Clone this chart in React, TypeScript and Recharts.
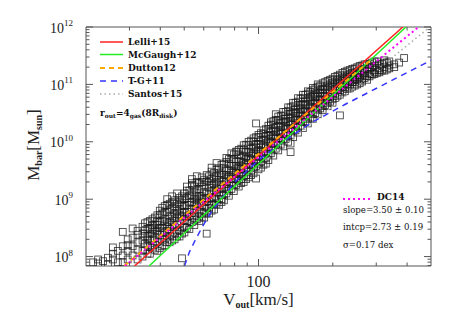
import React from 'react';
import { ScatterChart, Scatter, XAxis, YAxis } from 'recharts';

// axes are in log10 units: x = log V_out [km/s], y = log M_bar [M_sun]
const X_MIN = Math.log10(20);
const X_MAX = Math.log10(500);
const Y_MIN = 7.836;
const Y_MAX = 12;

const xTickValues = [30, 40, 50, 60, 70, 80, 90, 100, 200, 300, 400];
const xLabelValues = [100];
const yDecades = [7, 8, 9, 10, 11];
const yMinorSteps = [1, 2, 3, 4, 5, 6, 7, 8, 9];

// galaxies, grouped by log V column: [logV, logM values]
const galaxyColumns: [number, number[]][] = [
  [1.33, [7.9]],
  [1.35, [7.88, 7.95]],
  [1.37, [7.92]],
  [1.39, [7.98, 7.87]],
  [1.41, [8.16, 7.95, 8.05]],
  [1.43, [7.9, 8.1]],
  [1.45, [8.43, 8.02, 8.18, 7.9]],
  [1.47, [8.1, 8.3, 7.95, 8.2]],
  [1.49, [8.49, 8.18, 8.02, 8.33]],
  [1.51, [8.12, 8.38, 8.25, 7.95, 8.45]],
  [1.53, [8.52, 8.28, 8.1, 8.4, 8.0]],
  [1.54, [8.45, 8.22, 8.58, 8.12, 8.36]],
  [1.55, [8.6, 8.35, 8.2, 8.48, 8.05, 8.3]],
  [1.56, [8.5, 8.28, 8.62, 8.18, 8.4, 8.05]],
  [1.57, [8.65, 8.3, 8.48, 8.55, 8.15, 8.4]],
  [1.58, [8.55, 8.32, 8.68, 8.2, 8.46, 8.12]],
  [1.59, [8.72, 8.4, 8.55, 8.25, 8.62, 8.1, 8.45]],
  [1.6, [8.6, 8.38, 8.72, 8.25, 8.5, 8.15, 8.8]],
  [1.61, [8.5, 8.75, 8.3, 8.85, 8.62, 8.18, 8.42]],
  [1.62, [8.65, 8.42, 8.78, 8.3, 8.56, 8.2, 8.88]],
  [1.63, [9.0, 8.6, 8.45, 8.78, 8.52, 8.25, 8.9, 8.35]],
  [1.64, [8.7, 8.48, 8.82, 8.35, 8.6, 8.25, 8.92]],
  [1.65, [8.62, 8.85, 8.4, 9.05, 8.7, 8.28, 8.55, 8.95]],
  [1.66, [8.75, 8.52, 8.88, 8.4, 8.66, 8.3, 8.98]],
  [1.67, [8.8, 8.55, 9.1, 8.68, 8.35, 8.92, 8.45, 8.74]],
  [1.68, [8.82, 8.58, 8.95, 8.45, 8.72, 8.35, 9.02]],
  [1.69, [9.05, 8.7, 8.88, 8.5, 8.98, 8.4, 8.78, 7.97]],
  [1.7, [8.88, 8.64, 9.0, 8.52, 8.78, 8.42, 9.1]],
  [1.71, [8.9, 9.15, 8.62, 9.02, 8.78, 9.22, 8.5, 8.7]],
  [1.72, [8.94, 8.7, 9.06, 8.58, 8.84, 8.48, 9.15]],
  [1.73, [8.95, 9.08, 8.7, 9.25, 8.82, 9.35, 8.6, 9.28]],
  [1.74, [9.0, 8.76, 9.12, 8.64, 8.9, 8.55, 9.22]],
  [1.75, [8.98, 9.15, 8.8, 9.3, 8.92, 8.65, 9.05, 9.4]],
  [1.76, [9.06, 8.82, 9.18, 8.7, 8.96, 8.62, 9.28]],
  [1.77, [9.05, 8.9, 9.22, 9.38, 8.75, 9.0, 9.3, 8.68]],
  [1.78, [9.12, 8.88, 9.25, 8.78, 9.02, 8.68, 9.34]],
  [1.79, [9.1, 8.95, 9.3, 8.85, 9.42, 9.02, 8.75, 8.4]],
  [1.8, [9.2, 8.95, 9.32, 8.85, 9.1, 8.75, 9.4]],
  [1.81, [9.15, 9.35, 9.0, 9.25, 9.48, 8.9, 9.55, 8.8]],
  [1.82, [9.26, 9.02, 9.38, 8.92, 9.16, 8.82, 9.46]],
  [1.83, [9.2, 9.4, 9.05, 9.3, 9.52, 8.92, 9.12, 9.63]],
  [1.84, [9.34, 9.1, 9.45, 9.0, 9.24, 8.9, 9.54]],
  [1.85, [9.25, 9.45, 9.08, 9.38, 9.6, 9.0, 9.18, 8.95]],
  [1.86, [9.42, 9.18, 9.54, 9.08, 9.32, 8.98, 9.62]],
  [1.87, [9.35, 9.2, 9.5, 9.3, 9.65, 9.1, 9.72, 9.42]],
  [1.88, [9.5, 9.26, 9.62, 9.15, 9.4, 9.06, 9.7]],
  [1.89, [9.42, 9.28, 9.58, 9.35, 9.18, 9.7, 9.5, 9.8]],
  [1.9, [9.58, 9.35, 9.7, 9.24, 9.48, 9.14, 9.78]],
  [1.91, [9.5, 9.35, 9.65, 9.45, 9.82, 9.25, 9.58, 9.83]],
  [1.92, [9.66, 9.44, 9.78, 9.32, 9.56, 9.22, 9.86]],
  [1.93, [9.58, 9.45, 9.72, 9.52, 9.35, 9.88, 9.65, 9.28]],
  [1.94, [9.75, 9.52, 9.86, 9.4, 9.64, 9.3, 9.94]],
  [1.95, [9.68, 9.55, 9.82, 9.62, 9.42, 9.95, 9.74, 9.35]],
  [1.96, [9.82, 9.6, 9.94, 9.48, 9.72, 9.38, 10.0]],
  [1.97, [9.75, 9.6, 9.88, 9.68, 10.02, 9.5, 9.8, 9.42]],
  [1.98, [9.9, 9.66, 10.0, 9.55, 9.8, 9.45, 10.06]],
  [1.99, [9.82, 9.68, 9.95, 9.75, 10.08, 9.58, 9.9, 9.36, 10.32]],
  [2.0, [9.96, 9.74, 10.08, 9.62, 9.86, 9.52, 10.12]],
  [2.01, [9.9, 9.75, 10.02, 9.82, 10.15, 9.65, 9.95, 9.55]],
  [2.02, [10.04, 9.8, 10.14, 9.7, 9.94, 9.6, 10.2]],
  [2.03, [9.96, 9.82, 10.1, 9.9, 10.22, 9.72, 10.04, 9.62]],
  [2.04, [10.12, 9.88, 10.22, 9.78, 10.02, 9.68, 10.28]],
  [2.05, [10.05, 9.9, 10.18, 9.98, 10.3, 9.8, 10.12, 10.34]],
  [2.06, [10.2, 9.96, 10.3, 9.86, 10.1, 9.76, 10.36]],
  [2.07, [10.12, 9.98, 10.25, 10.06, 10.38, 9.88, 10.18, 10.48]],
  [2.08, [10.28, 10.05, 10.38, 9.94, 10.18, 9.85, 10.44]],
  [2.09, [10.2, 10.06, 10.32, 10.14, 10.45, 9.95, 10.28]],
  [2.1, [10.36, 10.14, 10.46, 10.02, 10.26, 9.92, 10.52]],
  [2.11, [10.28, 10.15, 10.4, 10.22, 10.52, 10.05, 10.35]],
  [2.12, [10.44, 10.22, 10.54, 10.1, 10.34, 10.0, 10.6]],
  [2.13, [10.36, 10.22, 10.48, 10.3, 10.6, 10.12, 10.42, 9.97, 9.82]],
  [2.14, [10.52, 10.3, 10.62, 10.18, 10.42, 10.08, 10.68]],
  [2.15, [10.45, 10.3, 10.56, 10.38, 10.68, 10.2, 10.5]],
  [2.16, [10.6, 10.36, 10.7, 10.26, 10.5, 10.16, 10.76]],
  [2.17, [10.52, 10.38, 10.64, 10.45, 10.75, 10.28, 10.58]],
  [2.18, [10.66, 10.44, 10.76, 10.34, 10.56, 10.24, 10.82]],
  [2.19, [10.58, 10.45, 10.7, 10.52, 10.82, 10.35, 10.65]],
  [2.2, [10.74, 10.5, 10.84, 10.4, 10.64, 10.32, 10.88]],
  [2.21, [10.66, 10.52, 10.78, 10.6, 10.87, 10.42, 10.72]],
  [2.22, [10.8, 10.58, 10.9, 10.48, 10.7, 10.4, 10.94]],
  [2.23, [10.72, 10.6, 10.84, 10.68, 10.93, 10.5, 10.78]],
  [2.24, [10.86, 10.65, 10.96, 10.56, 10.78, 10.48, 11.0]],
  [2.25, [10.8, 10.66, 10.9, 10.74, 10.98, 10.58, 10.85]],
  [2.26, [10.92, 10.72, 11.02, 10.62, 10.84, 10.55]],
  [2.27, [10.85, 10.72, 10.95, 10.8, 11.04, 10.64]],
  [2.28, [10.98, 10.78, 11.06, 10.68, 10.9, 10.62]],
  [2.29, [10.9, 10.78, 11.0, 10.86, 11.08, 10.7]],
  [2.3, [11.03, 10.84, 11.1, 10.74, 10.95, 10.68]],
  [2.31, [10.96, 10.84, 11.05, 10.92, 11.13, 10.76]],
  [2.32, [11.08, 10.9, 11.15, 10.8, 11.0]],
  [2.33, [11.02, 10.9, 11.1, 10.97, 11.17, 10.82, 10.46]],
  [2.34, [11.12, 10.95, 11.2, 10.86, 11.06]],
  [2.35, [11.06, 10.95, 11.14, 11.02, 11.22, 10.88]],
  [2.36, [11.16, 11.0, 11.24, 10.92, 11.1]],
  [2.37, [11.1, 11.0, 11.18, 11.05, 11.25, 10.93]],
  [2.38, [11.2, 11.04, 11.27, 10.96, 11.14]],
  [2.39, [11.13, 11.04, 11.21, 11.09, 11.28, 10.98]],
  [2.4, [11.22, 11.08, 11.3, 11.0, 11.17]],
  [2.41, [11.16, 11.08, 11.24, 11.12, 11.32, 11.02]],
  [2.42, [11.25, 11.1, 11.33, 11.05]],
  [2.43, [11.19, 11.11, 11.27, 11.15, 11.35]],
  [2.44, [11.28, 11.14, 11.35, 11.08]],
  [2.45, [11.22, 11.14, 11.3, 11.18, 11.36]],
  [2.46, [11.3, 11.17, 11.38]],
  [2.47, [11.25, 11.18, 11.32, 11.22, 11.4]],
  [2.48, [11.33, 11.2, 11.4]],
  [2.49, [11.28, 11.21, 11.35, 11.25]],
  [2.5, [11.36, 11.24]],
  [2.51, [11.3, 11.24, 11.38, 11.42]],
  [2.52, [11.38, 11.26]],
  [2.53, [11.33, 11.28, 11.4]],
  [2.55, [11.35, 11.3]],
  [2.57, [11.38]],
  [2.59, [11.46]],
];

// straight-line relations: log M = slope * log V + intercept
const fitNames = ['Lelli+15', 'McGaugh+12', 'Dutton12', 'Santos+15', 'DC14'];
const fitSlopes = [3.83, 4.0, 3.59, 3.5, 3.5];
const fitIntercepts = [2.1, 1.61, 2.61, 2.57, 2.73];
const fitMaxLogV = [X_MAX, X_MAX, 2.46, X_MAX, X_MAX];

// T-G+11 curve
const tgLogV = [1.7, 1.72, 1.743, 1.77, 1.8, 1.844, 1.905, 2.0, 2.1, 2.213, 2.35, 2.5, 2.699];
const tgLogM = [7.836, 8.08, 8.28, 8.5, 8.72, 8.98, 9.3, 9.68, 10.0, 10.33, 10.65, 10.98, 11.42];

const COLORS: Record<string, string> = {
  'Lelli+15': '#ff2222',
  'McGaugh+12': '#22ee22',
  'Dutton12': '#ffaa00',
  'T-G+11': '#3333ff',
  'Santos+15': '#aaaaaa',
  'DC14': '#ff00ff',
};
const DASHES: Record<string, string | undefined> = {
  'Lelli+15': undefined,
  'McGaugh+12': undefined,
  'Dutton12': '5 4',
  'T-G+11': '6 5',
  'Santos+15': '1.5 3',
  'DC14': '2 3',
};
const WIDTHS: Record<string, number> = {
  'Lelli+15': 1.5,
  'McGaugh+12': 1.5,
  'Dutton12': 2,
  'T-G+11': 1.5,
  'Santos+15': 1.5,
  'DC14': 2,
};

const galaxies = galaxyColumns.flatMap(([lv, ms]) => ms.map((m) => ({ x: lv, y: m })));

function fitSegment(i: number) {
  const a = fitSlopes[i];
  const b = fitIntercepts[i];
  const x0 = Math.max(X_MIN, (Y_MIN - b) / a);
  const x1 = Math.min(fitMaxLogV[i], (Y_MAX - b) / a);
  return [
    { x: x0, y: a * x0 + b },
    { x: x1, y: a * x1 + b },
  ];
}
const tgCurve = tgLogV.map((x, i) => ({ x, y: tgLogM[i] }));

const xTicks = xTickValues.map((v) => Math.log10(v));
const yTicks = yDecades
  .flatMap((d) => yMinorSteps.map((m) => d + Math.log10(m)))
  .concat([12])
  .filter((v) => v >= Y_MIN && v <= Y_MAX);

const W = 440;
const H = 305;
const PLOT = { left: 78, right: 423, top: 19, bottom: 258 };
const AXIS = '#555';
const SERIF = '"Liberation Serif", "DejaVu Serif", serif';
const LEG_FONT = '"DejaVu Serif", serif';

const isDecade = (v: number) => Math.abs(v - Math.round(v)) < 1e-6;
const isXLabel = (v: number) => xLabelValues.some((l) => Math.abs(Math.log10(l) - v) < 1e-6);

function BottomTick(props: any) {
  const { x, payload } = props;
  const v = payload.value;
  const major = isXLabel(v);
  return (
    <g>
      <line x1={x} x2={x} y1={PLOT.bottom} y2={PLOT.bottom - (major ? 7 : 3.5)} stroke={AXIS} />
      {major && (
        <text x={x} y={279} textAnchor="middle" fontSize={16} fontFamily={SERIF} fill="#222">
          {Math.round(10 ** v)}
        </text>
      )}
    </g>
  );
}

function TopTick(props: any) {
  const { x, payload } = props;
  const major = isXLabel(payload.value);
  return <line x1={x} x2={x} y1={PLOT.top} y2={PLOT.top + (major ? 7 : 3.5)} stroke={AXIS} />;
}

function LeftTick(props: any) {
  const { y, payload } = props;
  const v = payload.value;
  const major = isDecade(v);
  return (
    <g>
      <line x1={PLOT.left} x2={PLOT.left + (major ? 7 : 3.5)} y1={y} y2={y} stroke={AXIS} />
      {major && (
        <text x={65} y={y + 5.5} textAnchor="end" fontSize={14} fontFamily={SERIF} fill="#222">
          10<tspan dy={-6.5} fontSize={9}>{Math.round(v)}</tspan>
        </text>
      )}
    </g>
  );
}

function RightTick(props: any) {
  const { y, payload } = props;
  const major = isDecade(payload.value);
  return <line x1={PLOT.right} x2={PLOT.right - (major ? 7 : 3.5)} y1={y} y2={y} stroke={AXIS} />;
}

const Square = (props: any) => {
  const { cx, cy } = props;
  if (cx == null || cy == null) return <g />;
  return (
    <rect
      x={cx - 3.4}
      y={cy - 3.4}
      width={6.8}
      height={6.8}
      fill="none"
      stroke="#1a1a1a"
      strokeOpacity={0.8}
      strokeWidth={0.9}
    />
  );
};

const NoDot = () => <g />;

function lineScatter(name: string, data: { x: number; y: number }[]) {
  return (
    <Scatter
      key={name}
      name={name}
      data={data}
      fill={COLORS[name]}
      shape={NoDot}
      line={{ stroke: COLORS[name], strokeWidth: WIDTHS[name], strokeDasharray: DASHES[name] }}
      lineType="joint"
      isAnimationActive={false}
    />
  );
}

const legendRows = ['Lelli+15', 'McGaugh+12', 'Dutton12', 'T-G+11', 'Santos+15'];
const legendY = [34, 46.5, 60, 73, 86];

function Overlay() {
  return (
    <svg
      width={W}
      height={H}
      style={{ position: 'absolute', left: 0, top: 0, pointerEvents: 'none' }}
    >
      {legendRows.map((n, i) => (
        <g key={n}>
          <line
            x1={92}
            x2={115}
            y1={legendY[i]}
            y2={legendY[i]}
            stroke={COLORS[n]}
            strokeWidth={WIDTHS[n]}
            strokeDasharray={DASHES[n]}
          />
          <text x={120} y={legendY[i] + 3.3} fontSize={9} fontWeight="bold" fontFamily={LEG_FONT} fill="#111">
            {n}
          </text>
        </g>
      ))}
      <text x={92} y={107.5} fontSize={9} fontWeight="bold" fontFamily={LEG_FONT} fill="#111">
        r<tspan fontSize={6} dy={2}>out</tspan>
        <tspan dy={-2}>=4</tspan>
        <tspan fontSize={6} dy={2}>gas</tspan>
        <tspan dy={-2}>(8R</tspan>
        <tspan fontSize={6} dy={2}>disk</tspan>
        <tspan dy={-2}>)</tspan>
      </text>

      <line x1={335} x2={362} y1={191} y2={191} stroke={COLORS['DC14']} strokeWidth={2} strokeDasharray="2 3" />
      <text x={369} y={192} fontSize={9} fontWeight="bold" fontFamily={LEG_FONT} fill="#111">
        DC14
      </text>
      <text x={335} y={205.3} fontSize={8.6} fontFamily={LEG_FONT} fill="#111">
        slope=3.50 ± 0.10
      </text>
      <text x={335} y={222} fontSize={8.6} fontFamily={LEG_FONT} fill="#111">
        intcp=2.73 ± 0.19
      </text>
      <text x={335} y={239.6} fontSize={8.6} fontFamily={LEG_FONT} fill="#111">
        σ=0.17 dex
      </text>

      <text x={250.5} y={297} textAnchor="middle" fontSize={17} fontFamily={SERIF} fill="#222">
        V<tspan fontSize={10} dy={3} fontWeight="bold">out</tspan>
        <tspan dy={-3}>[km/s]</tspan>
      </text>
      <text
        transform="translate(30.5,137) rotate(-90)"
        textAnchor="middle"
        fontSize={17}
        fontFamily={SERIF}
        fill="#222"
      >
        M<tspan fontSize={10} dy={3} fontWeight="bold">bar</tspan>
        <tspan dy={-3}>[M</tspan>
        <tspan fontSize={10} dy={3} fontWeight="bold">sun</tspan>
        <tspan dy={-3}>]</tspan>
      </text>
    </svg>
  );
}

export default function App() {
  return (
    <div style={{ position: 'relative', width: W, height: H }}>
      <ScatterChart width={W} height={H} margin={{ top: 0, right: 0, bottom: 0, left: 0 }}>
        <XAxis
          type="number"
          dataKey="x"
          domain={[X_MIN, X_MAX]}
          allowDataOverflow
          ticks={xTicks}
          interval={0}
          height={H - PLOT.bottom}
          tickLine={false}
          axisLine={{ stroke: AXIS }}
          tick={BottomTick}
        />
        <XAxis
          xAxisId="top"
          orientation="top"
          type="number"
          dataKey="x"
          domain={[X_MIN, X_MAX]}
          allowDataOverflow
          ticks={xTicks}
          interval={0}
          height={PLOT.top}
          tickLine={false}
          axisLine={{ stroke: AXIS }}
          tick={TopTick}
        />
        <YAxis
          type="number"
          dataKey="y"
          domain={[Y_MIN, Y_MAX]}
          allowDataOverflow
          ticks={yTicks}
          interval={0}
          width={PLOT.left}
          tickLine={false}
          axisLine={{ stroke: AXIS }}
          tick={LeftTick}
        />
        <YAxis
          yAxisId="right"
          orientation="right"
          type="number"
          dataKey="y"
          domain={[Y_MIN, Y_MAX]}
          allowDataOverflow
          ticks={yTicks}
          interval={0}
          width={W - PLOT.right}
          tickLine={false}
          axisLine={{ stroke: AXIS }}
          tick={RightTick}
        />
        <Scatter name="galaxies" data={galaxies} shape={Square} isAnimationActive={false} />
        {lineScatter('Santos+15', fitSegment(3))}
        {lineScatter('T-G+11', tgCurve)}
        {lineScatter('McGaugh+12', fitSegment(1))}
        {lineScatter('Lelli+15', fitSegment(0))}
        {lineScatter('Dutton12', fitSegment(2))}
        {lineScatter('DC14', fitSegment(4))}
      </ScatterChart>
      <Overlay />
    </div>
  );
}
